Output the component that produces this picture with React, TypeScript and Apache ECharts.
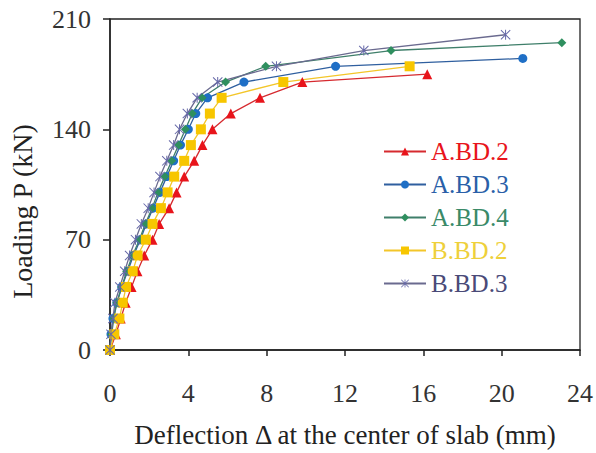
import React, { useEffect, useRef } from "react";
import * as echarts from "echarts";

const seriesNames = ["A.BD.2", "A.BD.3", "A.BD.4", "B.BD.2", "B.BD.3"];

const loadABD2 = [0, 10, 20, 30, 40, 50, 60, 70, 80, 90, 100, 110, 120, 130, 140, 150, 160, 170, 175];
const deflABD2 = [0, 0.3, 0.55, 0.8, 1.1, 1.4, 1.75, 2.17, 2.51, 3.02, 3.4, 3.79, 4.3, 4.72, 5.23, 6.17, 7.66, 9.82, 16.2];

const loadABD3 = [0, 10, 20, 30, 40, 50, 60, 70, 80, 90, 100, 110, 120, 130, 140, 150, 160, 170, 180, 185];
const deflABD3 = [0, 0.05, 0.15, 0.35, 0.6, 0.9, 1.2, 1.55, 1.85, 2.2, 2.55, 2.9, 3.25, 3.6, 4.0, 4.38, 4.98, 6.84, 11.52, 21.08];

const loadABD4 = [0, 10, 20, 30, 40, 50, 60, 70, 80, 90, 100, 110, 120, 130, 140, 150, 160, 170, 180, 190, 195];
const deflABD4 = [0, 0.08, 0.2, 0.35, 0.6, 0.85, 1.15, 1.5, 1.8, 2.15, 2.45, 2.8, 3.15, 3.5, 3.85, 4.2, 4.7, 5.9, 7.95, 14.35, 23.07];

const loadBBD2 = [0, 10, 20, 30, 40, 50, 60, 70, 80, 90, 100, 110, 120, 130, 140, 150, 160, 170, 180];
const deflBBD2 = [0, 0.22, 0.48, 0.65, 0.82, 1.16, 1.41, 1.83, 2.17, 2.6, 2.94, 3.28, 3.79, 4.13, 4.64, 5.1, 5.7, 8.85, 15.3];

const loadBBD3 = [0, 10, 20, 30, 40, 50, 60, 70, 80, 90, 100, 110, 120, 130, 140, 150, 160, 170, 180, 190, 200];
const deflBBD3 = [0, 0.05, 0.15, 0.25, 0.5, 0.75, 1.0, 1.3, 1.6, 1.95, 2.25, 2.55, 2.9, 3.25, 3.55, 3.95, 4.45, 5.5, 8.5, 12.96, 20.2];

const xTicks = [0, 4, 8, 12, 16, 20, 24];
const yTicks = [0, 70, 140, 210];

const xTitle = "Deflection Δ at the center of slab (mm)";
const yTitle = "Loading P (kN)";

const asteriskPath =
  "path://M9,0 L11,0 L11,20 L9,20 Z M0,1.4 L1.4,0 L20,18.6 L18.6,20 Z M18.6,0 L20,1.4 L1.4,20 L0,18.6 Z";

const FONT = "Liberation Serif";

function pairs(xs: number[], ys: number[]) {
  return xs.map((x, i) => [x, ys[i]]);
}

export default function App() {
  const ref = useRef<HTMLDivElement>(null);
  useEffect(() => {
    if (!ref.current) return;
    const chart = echarts.init(ref.current, undefined, { renderer: "svg" });

    const defs = [
      { name: seriesNames[0], data: pairs(deflABD2, loadABD2), color: "#e8141b", lineColor: "#d62a2f", text: "#e8141b", symbol: "triangle", size: 10 },
      { name: seriesNames[1], data: pairs(deflABD3, loadABD3), color: "#1f6fc6", lineColor: "#2f5f9f", text: "#2a5fa8", symbol: "circle", size: 9 },
      { name: seriesNames[2], data: pairs(deflABD4, loadABD4), color: "#2f8f5f", lineColor: "#3f7f6a", text: "#3a8a68", symbol: "diamond", size: 9 },
      { name: seriesNames[3], data: pairs(deflBBD2, loadBBD2), color: "#f7c600", lineColor: "#f3c62a", text: "#eed03a", symbol: "rect", size: 10 },
      { name: seriesNames[4], data: pairs(deflBBD3, loadBBD3), color: "#6668a8", lineColor: "#6a6a8f", text: "#4a4a78", symbol: asteriskPath, size: 10 },
    ];

    chart.setOption({
      animation: false,
      backgroundColor: "#ffffff",
      grid: {
        left: 109,
        right: 16,
        top: 19,
        bottom: 102,
        show: true,
        borderColor: "#222",
        borderWidth: 1.3,
        backgroundColor: "transparent",
      },
      legend: {
        orient: "vertical",
        left: 383,
        top: 139,
        padding: 0,
        itemWidth: 42,
        itemHeight: 10,
        itemGap: 8,
        textStyle: { fontFamily: FONT, fontSize: 25, lineHeight: 24 },
        data: defs.map((d) => ({ name: d.name, textStyle: { color: d.text } })),
      },
      xAxis: {
        type: "value",
        min: 0,
        max: 24,
        interval: 4,
        name: xTitle,
        nameLocation: "middle",
        nameGap: 71,
        nameTextStyle: { fontFamily: FONT, fontSize: 27, color: "#222" },
        axisLine: { show: true, lineStyle: { color: "#222", width: 1.5 } },
        axisTick: { show: true, inside: false, length: 6, lineStyle: { color: "#222", width: 1.5 } },
        axisLabel: {
          margin: 30,
          fontFamily: FONT,
          fontSize: 26,
          color: "#333",
          formatter: (v: number) => (xTicks.includes(v) ? String(v) : ""),
        },
        splitLine: { show: false },
      },
      yAxis: {
        type: "value",
        min: 0,
        max: 210,
        interval: 70,
        name: yTitle,
        nameLocation: "middle",
        nameGap: 74,
        nameTextStyle: { fontFamily: FONT, fontSize: 28, color: "#222", padding: [0, 54, 0, 0] },
        axisLine: { show: true, lineStyle: { color: "#222", width: 1.5 } },
        axisTick: { show: true, inside: false, length: 7, lineStyle: { color: "#222", width: 1.5 } },
        axisLabel: {
          margin: 19,
          fontFamily: FONT,
          fontSize: 26,
          color: "#333",
          formatter: (v: number) => (yTicks.includes(v) ? String(v) : ""),
        },
        splitLine: { show: false },
      },
      series: defs.map((d) => ({
        name: d.name,
        type: "line",
        data: d.data,
        symbol: d.symbol,
        symbolSize: d.size,
        showSymbol: true,
        smooth: false,
        lineStyle: { color: d.lineColor, width: 1.3 },
        itemStyle: { color: d.color },
        emphasis: { disabled: true },
      })),
    });

    return () => chart.dispose();
  }, []);

  return (
    <div
      ref={ref}
      style={{ position: "fixed", left: 0, top: 0, width: 596, height: 453, background: "#fff" }}
    />
  );
}
